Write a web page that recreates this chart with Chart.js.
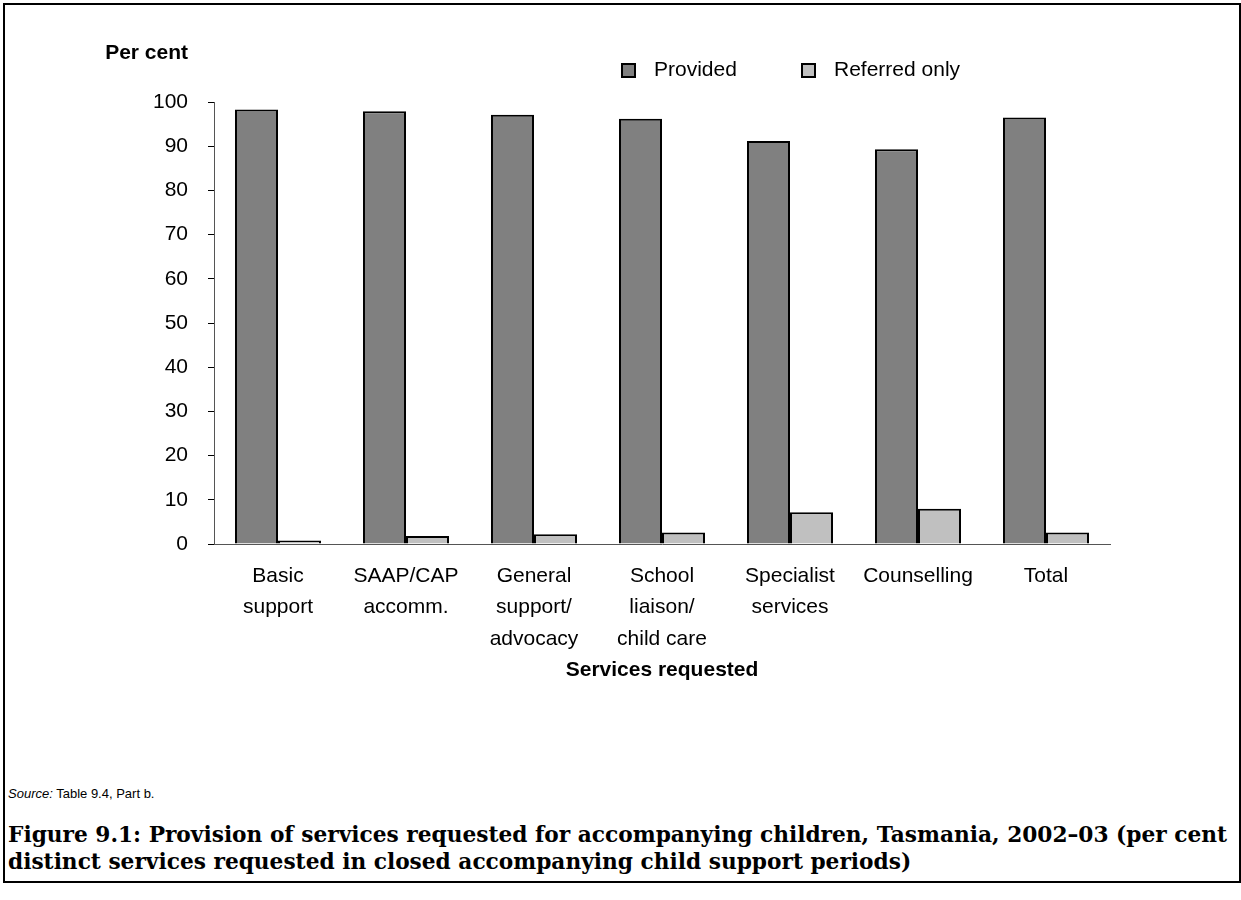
<!DOCTYPE html>
<html>
<head>
<meta charset="utf-8">
<script src="https://cdn.jsdelivr.net/npm/chart.js@4.4.0/dist/chart.umd.min.js"></script>
<style>
  body { margin: 0; background: #fff; font-family: "Liberation Sans", Arial, sans-serif; color: #000; }
  #frame { position: absolute; left: 3px; top: 3px; width: 1238px; height: 880px; border: 2px solid #000; box-sizing: border-box; }
  #wrap { position: absolute; left: 0; top: 0; width: 1241px; height: 700px; }
  #ylab { position: absolute; right: 1053px; top: 41px; font-weight: bold; font-size: 21px; line-height: 21px; }
  #legend { position: absolute; left: 0; top: 0; }
  .lg-box { position: absolute; width: 15px; height: 15px; border: 2px solid #000; box-sizing: border-box; }
  .lg-text { position: absolute; font-size: 21px; line-height: 21px; white-space: nowrap; }
  #source { position: absolute; left: 8px; top: 786px; font-size: 13px; }
  #caption { position: absolute; left: 8px; top: 821px; font-family: "DejaVu Serif", serif; font-weight: bold; font-size: 20px; line-height: 27px; white-space: nowrap; }
</style>
</head>
<body>
<div id="frame"></div>
<div id="wrap"><canvas id="chart"></canvas></div>
<div id="ylab">Per cent</div>
<div id="legend"></div>
<div id="source"><i>Source:</i> Table 9.4, Part b.</div>
<div id="caption"><span class="cl">Figure 9.1: Provision of services requested for accompanying children, Tasmania, 2002–03 (per cent</span><br><span class="cl">distinct services requested in closed accompanying child support periods)</span></div>
<script>
// data
var categories = [
  ["Basic", "support"],
  ["SAAP/CAP", "accomm."],
  ["General", "support/", "advocacy"],
  ["School", "liaison/", "child care"],
  ["Specialist", "services"],
  ["Counselling"],
  ["Total"]
];
var provided = [98.3, 97.9, 97.1, 96.2, 91.2, 89.3, 96.5];
var referredOnly = [0.8, 1.8, 2.2, 2.6, 7.2, 8.0, 2.6];
var yMin = 0, yMax = 100, yStep = 10;

var ctx = document.getElementById("chart");
var chart = new Chart(ctx, {
  type: 'bar',
  data: {
    labels: categories,
    datasets: [{
      label: "Provided",
      data: provided,
      backgroundColor: '#808080',
      borderColor: '#000',
      borderWidth: 2
    }, {
      label: "Referred only",
      data: referredOnly,
      backgroundColor: '#c0c0c0',
      borderColor: '#000',
      borderWidth: 2
    }]
  },
  options: {
    responsive: true,
    maintainAspectRatio: false,
    animation: false,
    datasets: { bar: { categoryPercentage: 0.672, barPercentage: 1.0 } },
    layout: { padding: { top: 102, right: 131, left: 0, bottom: 0 } },
    plugins: { legend: { display: false }, tooltip: { enabled: false } },
    scales: {
      y: {
        min: yMin,
        max: yMax,
        ticks: { stepSize: yStep, color: '#000', padding: 20, font: { family: 'Liberation Sans', size: 21 } },
        grid: { drawOnChartArea: false, tickLength: 6, color: '#000' },
        border: { color: '#555', width: 1 },
        afterFit: function (s) { s.width = 214; }
      },
      x: {
        ticks: { color: '#000', padding: 16, maxRotation: 0, autoSkip: false, font: { family: 'Liberation Sans', size: 21, lineHeight: 1.5 } },
        grid: { display: false, drawTicks: false },
        border: { color: '#555', width: 1 },
        title: {
          display: true,
          text: 'Services requested',
          color: '#000',
          font: { family: 'Liberation Sans', size: 21, weight: 'bold' },
          padding: { top: 0, bottom: 17 }
        },
        afterFit: function (s) { s.height = 156; }
      }
    }
  }
});

// legend built from the datasets
var lg = document.getElementById("legend");
var lgPos = [621, 801];
chart.data.datasets.forEach(function (ds, i) {
  var b = document.createElement("div");
  b.className = "lg-box";
  b.style.left = lgPos[i] + "px";
  b.style.top = "63px";
  b.style.background = ds.backgroundColor;
  lg.appendChild(b);
  var t = document.createElement("div");
  t.className = "lg-text";
  t.style.left = (lgPos[i] + 33) + "px";
  t.style.top = "58px";
  t.textContent = ds.label;
  lg.appendChild(t);
});

// size the caption so its first line spans the width it has in the figure
var cap = document.getElementById("caption");
var first = cap.querySelector(".cl");
var w = first.getBoundingClientRect().width;
cap.style.fontSize = (20 * 1220 / w).toFixed(2) + "px";
</script>
</body>
</html>
